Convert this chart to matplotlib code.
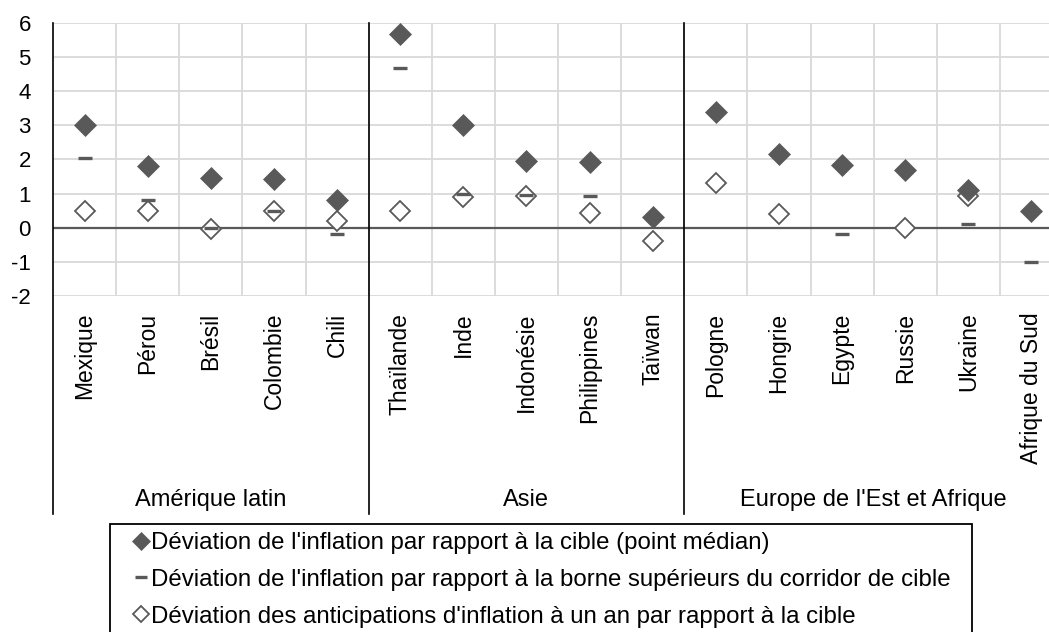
import numpy as np
import matplotlib.pyplot as plt
from matplotlib.patches import Rectangle

plt.rcParams['font.family'] = ['Liberation Sans', 'DejaVu Sans']

countries = ["Mexique", "Pérou", "Brésil", "Colombie", "Chili",
             "Thaïlande", "Inde", "Indonésie", "Philippines", "Taïwan",
             "Pologne", "Hongrie", "Egypte", "Russie", "Ukraine", "Afrique du Sud"]
groups = ["Amérique latin", "Asie", "Europe de l'Est et Afrique"]
group_sizes = [5, 5, 6]

nan = np.nan
# deviation of inflation from target (mid point)
infl_mid = [3.02, 1.81, 1.44, 1.42, 0.81, 5.67, 3.00, 1.94, 1.91, 0.32,
            3.40, 2.15, 1.82, 1.68, 1.10, 0.48]
# deviation of inflation from upper bound of target band
infl_upper = [2.03, 0.80, 0.00, 0.48, -0.19, 4.66, 1.00, 0.95, 0.92, nan,
              nan, nan, -0.19, nan, 0.10, -1.01]
# deviation of 1-year inflation expectations from target
anticip = [0.50, 0.50, -0.05, 0.50, 0.20, 0.50, 0.89, 0.93, 0.42, -0.40,
           1.31, 0.41, nan, -0.02, 0.93, nan]

labels = ["Déviation de l'inflation par rapport à la cible (point médian)",
          "Déviation de l'inflation par rapport à la borne supérieurs du corridor de cible",
          "Déviation des anticipations d'inflation à un an par rapport à la cible"]

W, H = 1049, 632
GREY = "#595959"

fig = plt.figure(figsize=(W / 100, H / 100), dpi=100)
# plot area in pixels: left 53, right 1063 (cropped), top 22.7, bottom 296
ax = fig.add_axes([53 / W, 1 - 296 / H, (1063 - 53) / W, (296 - 22.7) / H])

x = np.arange(len(countries))
ax.set_xlim(-0.5, len(countries) - 0.5)
ax.set_ylim(-2, 6)

# grid
for yv in range(-2, 7):
    if yv != 0:
        ax.axhline(yv, color="#d9d9d9", lw=1.3, zorder=0)
for xv in np.arange(0.5, len(countries) - 0.5, 1.0):
    ax.axvline(xv, color="#d9d9d9", lw=1.3, zorder=0)
ax.axhline(0, color=GREY, lw=1.6, zorder=1)

# group separators + left axis, running down through the label area
ybot = -(514 - 296) / (296 - 22.7)
bounds = np.cumsum([0] + group_sizes) - 0.5
for b in bounds[:-1]:
    ax.plot([b, b], [1, ybot], color="black", lw=1.2, transform=ax.get_xaxis_transform(),
            clip_on=False, zorder=2)

for s in ax.spines.values():
    s.set_visible(False)

h3, = ax.plot(x, anticip, ls="none", marker="D", ms=10.5, mfc="white", mec=GREY,
              mew=1.3, zorder=3)
h1, = ax.plot(x, infl_mid, ls="none", marker="D", ms=11.5, mfc=GREY, mec=GREY,
              mew=0.5, zorder=4)
h2, = ax.plot(x, infl_upper, ls="none", marker="_", ms=10.5, mec=GREY, mew=2.4, zorder=5)

ax.set_yticks(range(-2, 7))
ax.set_yticklabels([str(v) for v in range(-2, 7)], fontsize=16)
ax.tick_params(axis="y", length=0, pad=16)
ax.set_xticks(x)
ax.set_xticklabels(countries, rotation=90, fontsize=16.5)
ax.tick_params(axis="x", length=0, pad=12)

# group labels
ylab = -(506 - 296) / (296 - 22.7)
for i, g in enumerate(groups):
    cx = (bounds[i] + bounds[i + 1]) / 2
    ax.text(cx, ylab, g, transform=ax.get_xaxis_transform(), ha="center",
            va="baseline", fontsize=17)

# legend frame drawn by hand, the legend itself frameless
fig.patches.append(Rectangle((110 / W, -0.05), (972 - 110) / W, 0.05 + 1 - 524 / H,
                             transform=fig.transFigure, fill=False, ec="black", lw=1.3))
fig.legend([h1, h2, h3], labels, loc="upper left", frameon=False,
           bbox_to_anchor=(135 / W, 1 - 532 / H), borderpad=0, borderaxespad=0,
           handlelength=0.5, handletextpad=0.15, labelspacing=0.62,
           fontsize=17.3, markerscale=0.8)

fig.savefig("out.png", dpi=100)
